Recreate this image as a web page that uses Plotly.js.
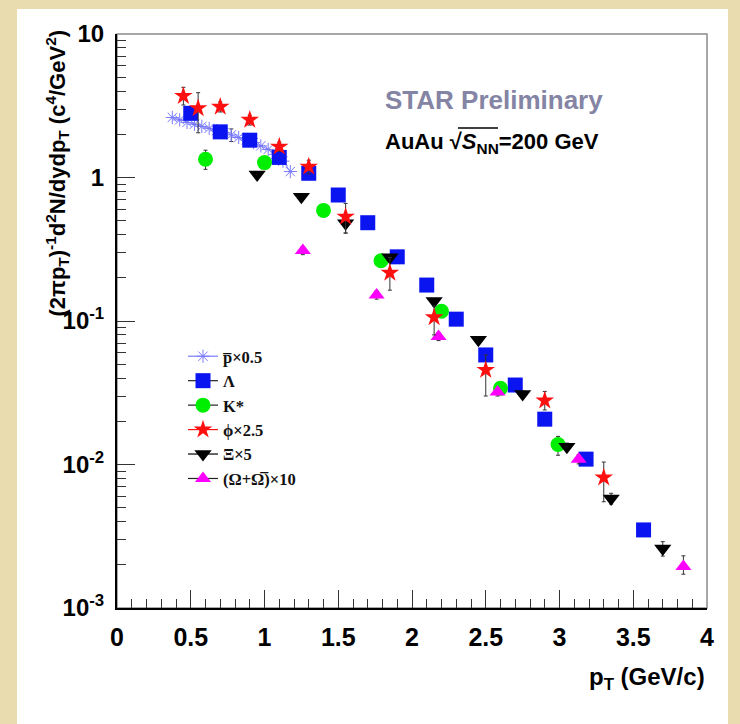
<!DOCTYPE html>
<html>
<head>
<meta charset="utf-8">
<script src="https://cdn.plot.ly/plotly-3.0.1.min.js"></script>
<style>html,body{margin:0;padding:0;background:#e9dcae;}</style>
</head>
<body>
<div id="chart" style="width:740px;height:724px;"></div>
<script>
// ---- data ----
const pbarX = [0.375,0.425,0.475,0.525,0.575,0.625,0.675,0.725,0.775,0.825,0.875,0.925,0.975,1.025,1.075,1.125,1.175];
const pbarY = [2.62,2.52,2.42,2.35,2.27,2.20,2.12,2.05,1.98,1.90,1.83,1.75,1.66,1.57,1.45,1.30,1.10];
const pbarErr = [0,0,0,0,0,0,0,0,0.2,0,0,0,0,0,0,0,0];

const lamX = [0.5,0.7,0.9,1.1,1.3,1.5,1.7,1.9,2.1,2.3,2.5,2.7,2.9,3.18,3.57];
const lamY = [2.80,2.08,1.82,1.38,1.07,0.755,0.484,0.280,0.178,0.103,0.058,0.0358,0.0207,0.0109,0.0035];

const kstX = [0.6,1.0,1.4,1.79,2.2,2.6,2.99];
const kstY = [1.34,1.27,0.59,0.263,0.117,0.034,0.0138];
const kstErrP = [0.21,0.05,0.02,0.01,0.004,0.0015,0.0019];
const kstErrM = [0.20,0.05,0.02,0.01,0.004,0.0015,0.0022];

const phiX = [0.45,0.55,0.7,0.9,1.1,1.3,1.55,1.85,2.15,2.5,2.9,3.3];
const phiY = [3.70,3.04,3.11,2.52,1.64,1.19,0.533,0.217,0.106,0.0456,0.0279,0.0081];
const phiErrP = [0.55,0.86,0.25,0.20,0.12,0.13,0.127,0.060,0.021,0.0124,0.0044,0.0023];
const phiErrM = [0.50,0.99,0.25,0.20,0.12,0.13,0.123,0.053,0.026,0.0156,0.0039,0.0026];

const xiX = [0.95,1.25,1.55,1.85,2.15,2.45,2.75,3.05,3.35,3.7];
const xiY = [1.05,0.735,0.48,0.278,0.138,0.074,0.031,0.0133,0.0058,0.0026];
const xiErr = [0.03,0.02,0.07,0.01,0.005,0.003,0.0015,0.0008,0.0005,0.0003];

const omX = [1.26,1.76,2.18,2.58,3.13,3.84];
const omY = [0.31,0.152,0.078,0.032,0.0109,0.00195];
const omErrP = [0.02,0.01,0.005,0.002,0.0008,0.00036];
const omErrM = [0.02,0.01,0.005,0.002,0.0008,0.00023];

const legendNames = ['<b>p\u0305\u00d70.5</b>','<b>\u039b</b>','<b>K*</b>','<b>\u03d5\u00d72.5</b>','<b>\u039e\u00d75</b>','<b>(\u03a9+\u03a9\u0305)\u00d710</b>'];
const yTickVals = [0.001,0.01,0.1,1,10];
const yTickText = ['10<sup>-3</sup>','10<sup>-2</sup>','10<sup>-1</sup>','1','10'];

// ---- styles ----
const cPbar = '#7b7bff', cLam = '#0a14f0', cK = '#00ee00', cPhi = '#ff1010', cXi = '#000000', cOm = '#ff00ff';
const errStyle = {color:'#333333', thickness:1, width:2};

function err(plus, minus){ return Object.assign({type:'data', array:plus, arrayminus:minus, symmetric:false, visible:true}, errStyle); }

const traces = [
  {x:pbarX, y:pbarY, mode:'lines+markers', showlegend:false,
   line:{color:cPbar, width:1}, marker:{symbol:'asterisk-open', size:11, color:cPbar, line:{color:cPbar, width:1}},
   error_y: err(pbarErr, pbarErr)},
  {x:lamX, y:lamY, mode:'markers', showlegend:false,
   marker:{symbol:'square', size:15, color:cLam, line:{width:0}}},
  {x:kstX, y:kstY, mode:'markers', showlegend:false,
   marker:{symbol:'circle', size:15, color:cK, line:{width:0}}, error_y: err(kstErrP, kstErrM)},
  {x:xiX, y:xiY, mode:'markers', showlegend:false,
   marker:{symbol:'triangle-down', size:15, color:cXi, line:{width:0}}, error_y: err(xiErr, xiErr)},
  {x:omX, y:omY, mode:'markers', showlegend:false,
   marker:{symbol:'triangle-up', size:14, color:cOm, line:{width:0}}, error_y: err(omErrP, omErrM)},
  {x:phiX, y:phiY, mode:'markers', showlegend:false,
   marker:{symbol:'star', size:14, color:cPhi, line:{width:0}}, error_y: err(phiErrP, phiErrM)}
];

// legend-only entries (no data points)
const legSpecs = [
  {sym:'asterisk-open', col:cPbar, lc:cPbar, size:11},
  {sym:'square', col:cLam, lc:'#222222', size:15},
  {sym:'circle', col:cK, lc:'#222222', size:15},
  {sym:'star', col:cPhi, lc:cPhi, size:14},
  {sym:'triangle-down', col:cXi, lc:'#000000', size:15},
  {sym:'triangle-up', col:cOm, lc:'#222222', size:14}
];
legSpecs.forEach((s,i)=>{
  traces.push({x:[null], y:[null], mode:'lines+markers', name:legendNames[i], showlegend:true,
    line:{color:s.lc, width:1.2},
    marker:{symbol:s.sym, size:s.size, color:s.col, line:{color:s.col, width:s.sym==='asterisk-open'?1:0}}});
});

// pixel helpers for paper coords (plot area: x 117..707, y 34..608)
const L=117, R=707, T=34, B=608;
const px = v => (v-L)/(R-L);
const py = v => (B-v)/(B-T);

const layout = {
  width:740, height:724,
  margin:{l:L, r:740-R, t:T, b:724-B},
  paper_bgcolor:'#e9dcae',
  plot_bgcolor:'rgba(0,0,0,0)',
  showlegend:true,
  legend:{x:px(183), y:py(339), xanchor:'left', yanchor:'top', bgcolor:'rgba(0,0,0,0)', borderwidth:0,
          font:{family:'Liberation Serif', size:16.5, color:'#111111'}, tracegroupgap:0},
  xaxis:{range:[0,4], showgrid:false, zeroline:false, showline:true, linecolor:'#000000', linewidth:2,
         ticks:'inside', ticklen:18, tickwidth:1, tickcolor:'#333333', dtick:0.5, tick0:0,
         tickfont:{family:'Liberation Sans', size:25, weight:'bold', color:'#000000'}, ticklabelstandoff:6,
         minor:{dtick:0.1, ticks:'inside', ticklen:9, tickwidth:1, tickcolor:'#333333'}},
  yaxis:{type:'log', range:[-3,1], showgrid:false, zeroline:false, showline:true, linecolor:'#000000', linewidth:2,
         ticks:'inside', ticklen:18, tickwidth:1, tickcolor:'#333333', tickmode:'array', tickvals:yTickVals, ticktext:yTickText,
         tickfont:{family:'Liberation Sans', size:24, weight:'bold', color:'#000000'}, ticklabelstandoff:6,
         minor:{dtick:'D1', ticks:'inside', ticklen:9, tickwidth:1, tickcolor:'#333333'}},
  shapes:[
    {type:'rect', xref:'paper', yref:'paper', x0:px(17), x1:px(728), y0:py(726), y1:py(9),
     fillcolor:'#ffffff', line:{width:0}, layer:'below'},
    {type:'rect', xref:'paper', yref:'paper', x0:0, x1:1, y0:0, y1:1,
     fillcolor:'rgba(0,0,0,0)', line:{color:'#8a8a8a', width:1.5}, layer:'below'},
    {type:'line', xref:'paper', yref:'paper', x0:px(458), x1:px(498), y0:py(128), y1:py(128),
     line:{color:'#000000', width:1.5}}
  ],
  annotations:[
    {xref:'paper', yref:'paper', x:px(383), y:py(100), xanchor:'left', yanchor:'middle', showarrow:false,
     text:'<b>STAR Preliminary</b>', font:{family:'Liberation Sans', size:26, color:'#8484a4'}},
    {xref:'paper', yref:'paper', x:px(383), y:py(143), xanchor:'left', yanchor:'middle', showarrow:false,
     text:'<b>AuAu \u221a<i>S</i><sub>NN</sub>=200 GeV</b>',
     font:{family:'Liberation Sans', size:22, color:'#000000'}},
    {xref:'paper', yref:'paper', x:px(57), y:py(28), xanchor:'center', yanchor:'top', textangle:-90, showarrow:false,
     text:'<b>(2\u03c0p<sub>T</sub>)<sup>-1</sup>d<sup>2</sup>N/dydp<sub>T</sub> (c<sup>4</sup>/GeV<sup>2</sup>)</b>',
     font:{family:'Liberation Sans', size:22, color:'#000000'}},
    {xref:'paper', yref:'paper', x:1, y:py(678), xanchor:'right', yanchor:'middle', showarrow:false,
     text:'<b>p<sub>T</sub> (GeV/c)</b>', font:{family:'Liberation Sans', size:24, color:'#000000'}}
  ]
};

Plotly.newPlot('chart', traces, layout, {displayModeBar:false, staticPlot:true});
</script>
</body>
</html>
